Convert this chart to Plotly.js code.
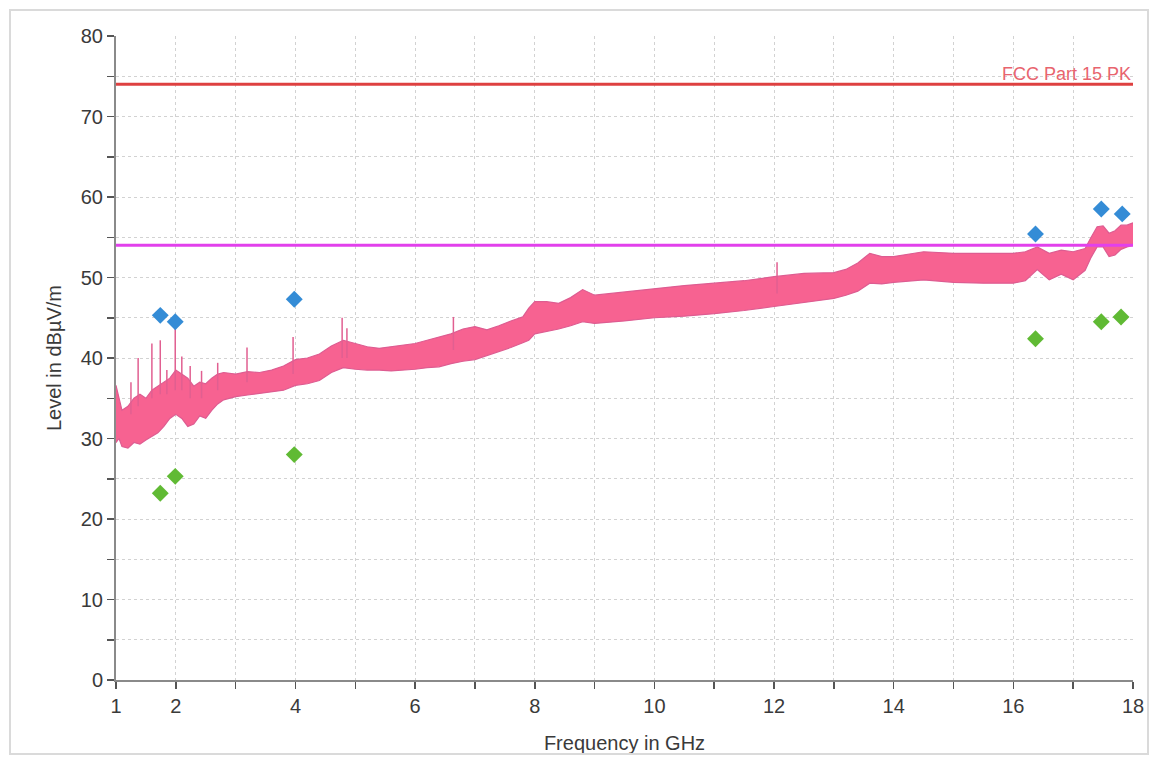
<!DOCTYPE html>
<html>
<head>
<meta charset="utf-8">
<script src="https://cdn.plot.ly/plotly-3.0.1.min.js"></script>
<style>
  html, body { margin: 0; padding: 0; background: #ffffff; }
  #frame { position: absolute; left: 9px; top: 9px; width: 1140px; height: 746px; border: 2px solid #dadada; box-sizing: border-box; pointer-events: none; z-index: 5; }
  #chart { position: absolute; left: 0; top: 0; width: 1155px; height: 757px; }
</style>
</head>
<body>
<div id="chart"></div>
<div id="frame"></div>
<script>
// ---- Data ----
const freq  = [1.0,1.05,1.1,1.2,1.3,1.4,1.5,1.6,1.7,1.8,1.9,2.0,2.1,2.2,2.3,2.4,2.5,2.6,2.7,2.8,3.0,3.2,3.4,3.6,3.8,4.0,4.2,4.4,4.6,4.8,5.0,5.2,5.4,5.6,5.8,6.0,6.2,6.4,6.6,6.8,7.0,7.2,7.4,7.6,7.8,7.9,8.0,8.2,8.4,8.6,8.8,9.0,9.5,10,10.5,11,11.5,12,12.5,13,13.2,13.4,13.6,13.8,14,14.5,15,15.5,16,16.2,16.4,16.6,16.8,17,17.2,17.3,17.4,17.5,17.6,17.7,17.8,17.9,18];
const upper = [36.6,35,33.5,34,35,35.5,35,36,36.5,37,37.5,38.5,38,37.5,36.5,37,36.8,37.5,38,38.2,38,38.3,38.2,38.5,39,39.8,40,40.5,41.5,42.2,41.8,41.4,41.2,41.4,41.6,41.8,42.2,42.6,43,43.6,43.9,43.5,44,44.6,45.1,46.2,47,47,46.8,47.5,48.5,47.8,48.2,48.6,49,49.3,49.6,50.1,50.5,50.6,51,51.8,53,52.6,52.6,53.2,53,53,53,53.2,53.8,53,53.4,53.2,53.6,55,56.3,56.4,55.5,55.8,56.5,56.5,56.8];
const lower = [29.5,30,29,28.8,29.5,29.3,29.8,30.2,30.7,31.5,32.5,33,32.5,31.5,31.8,32.8,32.5,33.5,34.3,34.8,35.2,35.4,35.6,35.8,36,36.6,36.8,37.2,38.2,38.8,38.6,38.5,38.5,38.4,38.5,38.6,38.8,38.9,39.3,39.6,39.8,40.3,40.8,41.3,41.9,42.2,43,43.3,43.6,44,44.5,44.3,44.6,45,45.2,45.5,45.9,46.4,46.9,47.4,47.8,48.3,49.3,49.2,49.4,49.7,49.4,49.3,49.3,49.6,51,49.7,50.4,49.7,50.9,52.5,53.8,53.8,52.6,52.8,53.5,53.8,54];

const spikeFreq = [1.25,1.37,1.6,1.74,1.85,1.99,2.1,2.24,2.43,2.7,3.19,3.96,4.78,4.86,6.64,12.05];
const spikeBase = [33,34,35,35.5,35.5,36,36,35,35,36,37,38,40,40,41,48];
const spikeTop  = [37,40,41.8,42.2,38.5,43.9,40.2,39,38.4,39.4,41.3,42.6,45,43.7,45.1,51.9];

const peakFreq  = [1.74,1.99,3.98,16.37,17.47,17.82];
const peakLevel = [45.3,44.5,47.3,55.4,58.5,57.9];
const avgFreq   = [1.74,1.99,3.98,16.37,17.47,17.8];
const avgLevel  = [23.2,25.3,28.0,42.4,44.5,45.1];

const limitName = "FCC Part 15 PK";
const limitRange = [1, 18];
const limitPK = 74;
const limitAV = 54;

const xTickVals = [1,2,3,4,5,6,7,8,9,10,11,12,13,14,15,16,17,18];
const xTickText = ["1","2","","4","","6","","8","","10","","12","","14","","16","","18"];

// ---- Build traces ----
const spikeX = [], spikeY = [];
spikeFreq.forEach((f, i) => { spikeX.push(f, f, null); spikeY.push(spikeBase[i], spikeTop[i], null); });

const traces = [
  { x: freq, y: lower, mode: 'lines', line: { color: 'rgb(222,92,145)', width: 1.2 }, hoverinfo: 'skip', showlegend: false },
  { x: freq, y: upper, mode: 'lines', fill: 'tonexty', fillcolor: 'rgb(247,98,145)', line: { color: 'rgb(222,92,145)', width: 1.2 }, showlegend: false },
  { x: spikeX, y: spikeY, mode: 'lines', line: { color: 'rgb(225,95,145)', width: 1.5 }, showlegend: false },
  { x: limitRange, y: [limitPK, limitPK], mode: 'lines', line: { color: 'rgb(222,64,64)', width: 3 }, showlegend: false },
  { x: limitRange, y: [limitAV, limitAV], mode: 'lines', line: { color: 'rgb(226,64,236)', width: 3 }, showlegend: false },
  { x: peakFreq, y: peakLevel, mode: 'markers', marker: { symbol: 'diamond', size: 13, color: 'rgb(52,140,214)' }, showlegend: false },
  { x: avgFreq, y: avgLevel, mode: 'markers', marker: { symbol: 'diamond', size: 13, color: 'rgb(96,186,52)' }, showlegend: false }
];

const fontFam = 'Arial, "Liberation Sans", sans-serif';

const layout = {
  width: 1155, height: 757,
  margin: { l: 116, r: 22, t: 36, b: 77 },
  paper_bgcolor: '#ffffff', plot_bgcolor: '#ffffff',
  font: { family: fontFam, size: 20, color: '#3a3a3a' },
  xaxis: {
    range: [1, 18], tickmode: 'array', tickvals: xTickVals, ticktext: xTickText,
    showline: true, linecolor: '#8a8a8a', linewidth: 2,
    ticks: 'outside', ticklen: 7, tickwidth: 1.5, tickcolor: '#555',
    showgrid: true, gridcolor: '#d2d2d2', griddash: 'dot', gridwidth: 1,
    zeroline: false, tickfont: { size: 20, color: '#3a3a3a' },
    title: { text: 'Frequency in GHz', font: { size: 20, color: '#3a3a3a' }, standoff: 20 }
  },
  yaxis: {
    range: [0, 80], dtick: 10, tick0: 0,
    showline: true, linecolor: '#8a8a8a', linewidth: 2,
    ticks: 'outside', ticklen: 7, tickwidth: 1.5, tickcolor: '#555',
    showgrid: true, gridcolor: '#d2d2d2', griddash: 'dot', gridwidth: 1,
    minor: { dtick: 5, ticks: 'outside', ticklen: 7, tickcolor: '#555', showgrid: true, gridcolor: '#d2d2d2', griddash: 'dot' },
    zeroline: false, tickfont: { size: 20, color: '#3a3a3a' },
    title: { text: 'Level in dBµV/m', font: { size: 20, color: '#3a3a3a' }, standoff: 14 }
  },
  annotations: [
    { x: 18, y: limitPK, xref: 'x', yref: 'y', text: limitName, showarrow: false,
      xanchor: 'right', yanchor: 'bottom', yshift: -2,
      font: { family: fontFam, size: 18, color: 'rgb(232,100,110)' } }
  ]
};

Plotly.newPlot('chart', traces, layout, { displayModeBar: false, staticPlot: true });
</script>
</body>
</html>
